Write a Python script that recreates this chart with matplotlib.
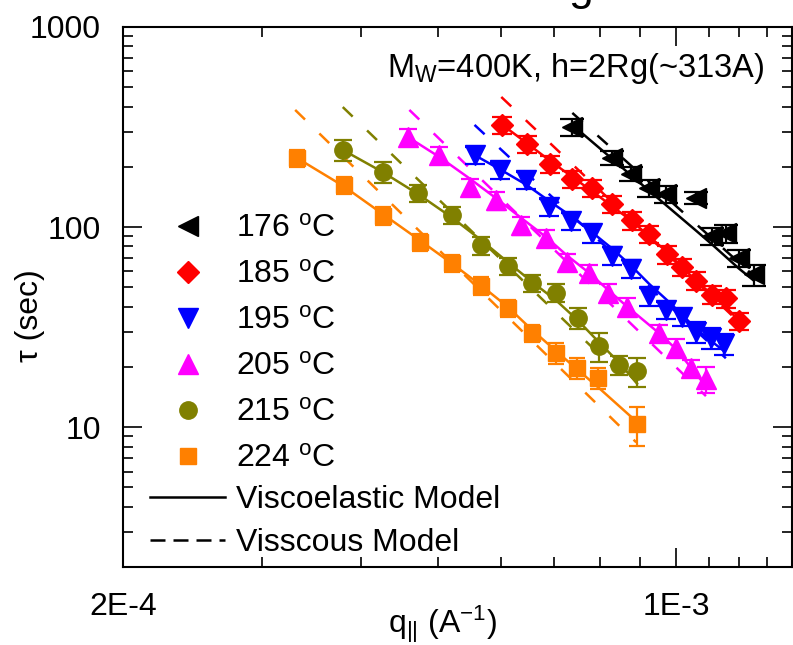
import numpy as np
import matplotlib
matplotlib.use("Agg")
import matplotlib.pyplot as plt
from matplotlib.lines import Line2D
from matplotlib.ticker import FixedLocator, FixedFormatter, NullFormatter

plt.rcParams['font.family'] = ['Liberation Sans', 'DejaVu Sans']
plt.rcParams['mathtext.fontset'] = 'custom'
plt.rcParams['mathtext.rm'] = 'Liberation Sans'
plt.rcParams['mathtext.it'] = 'Liberation Sans:italic'
plt.rcParams['mathtext.bf'] = 'Liberation Sans:bold'

# ---------------- data ----------------
series_labels = ['176 $^{\\rm o}$C', '185 $^{\\rm o}$C', '195 $^{\\rm o}$C',
                 '205 $^{\\rm o}$C', '215 $^{\\rm o}$C', '224 $^{\\rm o}$C']
colors = ['#000000', '#FF0000', '#0000FF', '#FF00FF', '#808000', '#FF8000']
markers = ['<', 'D', 'v', '^', 'o', 's']
msizes = [15, 11, 14, 14, 12.5, 12]
capsizes = [8.5, 7.5, 7.5, 6.5, 6.5, 6.0]

q_176 = [7.39e-4, 8.30e-4, 8.77e-4, 9.24e-4, 9.71e-4, 1.059e-3, 1.109e-3, 1.155e-3, 1.200e-3, 1.253e-3]
tau_176 = [316, 221, 184, 157, 146, 140, 90, 93, 70, 58]
err_176 = [0.10, 0.08, 0.08, 0.10, 0.10, 0.07, 0.10, 0.10, 0.10, 0.12]
ve_176 = [324, 219, 181, 152, 128.5, 96, 82, 71, 62, 54]

q_185 = [6.03e-4, 6.48e-4, 6.93e-4, 7.39e-4, 7.83e-4, 8.30e-4, 8.79e-4, 9.24e-4, 9.73e-4, 1.017e-3, 1.059e-3, 1.109e-3, 1.155e-3, 1.200e-3]
tau_185 = [324, 260, 206, 174, 157, 130, 108, 92, 73, 63, 54, 46, 44, 34]
err_185 = [0.10] * 14
ve_185 = [324, 262, 214, 178, 151, 127, 107, 90, 75, 63, 54, 46, 40, 34]

q_195 = [5.56e-4, 5.98e-4, 6.46e-4, 6.91e-4, 7.37e-4, 7.83e-4, 8.30e-4, 8.77e-4, 9.24e-4, 9.71e-4, 1.017e-3, 1.059e-3, 1.106e-3, 1.149e-3]
tau_195 = [229, 193, 172, 126, 107, 93, 72, 62, 45, 38.5, 35.5, 30, 28, 26]
err_195 = [0.10] * 11 + [0.12, 0.12, 0.12]
ve_195 = [229, 195, 163, 135, 113, 94, 78, 64, 52, 43.5, 36.5, 31, 27, 24]

q_205 = [4.58e-4, 5.02e-4, 5.48e-4, 5.91e-4, 6.37e-4, 6.85e-4, 7.28e-4, 7.76e-4, 8.20e-4, 8.67e-4, 9.51e-4, 1.000e-3, 1.044e-3, 1.090e-3]
tau_205 = [282, 229, 158, 136, 102, 88, 67, 59, 47, 40, 29.5, 25, 19.7, 17.4]
err_205 = [0.10] * 13 + [0.15]
ve_205 = [282, 224, 175, 140, 111, 89, 72, 59, 48.5, 40, 29.5, 24.5, 19.8, 16]

q_215 = [3.79e-4, 4.26e-4, 4.72e-4, 5.20e-4, 5.67e-4, 6.12e-4, 6.58e-4, 7.05e-4, 7.52e-4, 7.99e-4, 8.47e-4, 8.92e-4]
tau_215 = [243, 188, 148, 115, 81, 64, 52.5, 47, 35, 25.4, 20.4, 19]
err_215 = [0.12, 0.12, 0.10, 0.10, 0.10, 0.10, 0.10, 0.10, 0.12, 0.17, 0.11, 0.16]
ve_215 = [243, 188, 146, 112, 86, 67, 53, 43, 34, 26.5, 21, 16.5]

q_224 = [3.32e-4, 3.80e-4, 4.26e-4, 4.74e-4, 5.20e-4, 5.67e-4, 6.12e-4, 6.58e-4, 7.05e-4, 7.50e-4, 7.97e-4, 8.92e-4]
tau_224 = [221, 162, 114, 84, 66, 51, 39.4, 29.5, 23.4, 19.7, 17.6, 10.35]
err_224 = [0.10] * 8 + [0.12, 0.12, 0.12, 0.22]
ve_224 = [221, 160, 116, 86, 66, 51, 40, 30.5, 24, 19.4, 15.8, 10.6]

# viscous model (straight lines in log-log): q range and tau at ends
visc_q = [[7.39e-4, 1.253e-3], [6.01e-4, 1.20e-3], [5.56e-4, 1.155e-3],
          [4.60e-4, 1.09e-3], [3.79e-4, 8.85e-4], [3.30e-4, 8.90e-4]]
visc_tau = [[372, 57], [447, 33.5], [324, 22.1], [385, 14.3], [398, 15.7], [385, 8.4]]

q_all = [q_176, q_185, q_195, q_205, q_215, q_224]
tau_all = [tau_176, tau_185, tau_195, tau_205, tau_215, tau_224]
err_all = [err_176, err_185, err_195, err_205, err_215, err_224]
ve_all = [ve_176, ve_185, ve_195, ve_205, ve_215, ve_224]

annotation = 'M$_{\\rm W}$=400K, h=2Rg(~313A)'
xtick_vals = [2e-4, 1e-3]
xtick_labels = ['2E-4', '1E-3']
xminor_vals = [3e-4, 4e-4, 5e-4, 6e-4, 7e-4, 8e-4, 9e-4, 1.1e-3, 1.2e-3, 1.3e-3]
ytick_vals = [10, 100, 1000]
ytick_labels = ['10', '100', '1000']

# ---------------- figure ----------------
fig = plt.figure(figsize=(7.93, 6.45), dpi=100)
ax = fig.add_axes([123 / 793, 78 / 645, 669 / 793, 540 / 645])
ax.set_xscale('log')
ax.set_yscale('log')
ax.set_xlim(2e-4, 1.4e-3)
ax.set_ylim(2, 1000)

FS = 23
dash_plot = (0, (5.5, 8))
for i in range(6):
    c = colors[i]
    ax.plot(visc_q[i], visc_tau[i], color=c, lw=1.8, linestyle=dash_plot, zorder=2)
    ax.plot(q_all[i], ve_all[i], color=c, lw=1.8, zorder=2)
    t = np.array(tau_all[i])
    e = np.array(err_all[i]) * t
    ax.errorbar(q_all[i], t, yerr=e, fmt=markers[i], color=c, ms=msizes[i],
                mec=c, mfc=c, elinewidth=1.6, capsize=capsizes[i], capthick=1.6,
                zorder=3)

# ticks
for side in ['left', 'right', 'top', 'bottom']:
    ax.spines[side].set_linewidth(1.5)
ax.xaxis.set_major_locator(FixedLocator(xtick_vals))
ax.xaxis.set_major_formatter(FixedFormatter(xtick_labels))
ax.xaxis.set_minor_locator(FixedLocator(xminor_vals))
ax.xaxis.set_minor_formatter(NullFormatter())
ax.yaxis.set_major_locator(FixedLocator(ytick_vals))
ax.yaxis.set_major_formatter(FixedFormatter(ytick_labels))
ax.yaxis.set_minor_locator(FixedLocator([v * d for d in [1, 10, 100] for v in range(2, 10)]))
ax.yaxis.set_minor_formatter(NullFormatter())
ax.tick_params(which='both', direction='in', top=True, right=True, labelsize=FS, width=1.2)
ax.tick_params(which='major', length=14)
ax.tick_params(which='minor', length=7)
ax.tick_params(axis='y', which='major', pad=16)
ax.tick_params(axis='x', which='major', pad=18)

ax.set_xlabel('q$_{||}$ (A$^{-1}$)', fontsize=FS)
ax.xaxis.set_label_coords(0.478, -0.1215)
ax.xaxis.label.set_va('baseline')
ax.set_ylabel('τ (sec)', fontsize=FS)
ax.yaxis.set_label_coords(-0.139, 0.465)
ax.yaxis.label.set_va('center')

ax.text(0.3946, 0.9074, annotation, transform=ax.transAxes, fontsize=23.5, va='baseline', ha='left')

# legends
h1 = [Line2D([], [], ls='none', marker=markers[i], color=colors[i], ms=msizes[i]) for i in range(6)]
leg1 = ax.legend(h1, series_labels, loc='upper left', bbox_to_anchor=(0.0404, 0.654),
                 frameon=False, fontsize=FS, handlelength=2.35, handletextpad=0.33,
                 labelspacing=0.50, borderpad=0, borderaxespad=0)
ax.add_artist(leg1)
h2 = [Line2D([], [], color='black', lw=1.8),
      Line2D([], [], color='black', lw=1.8, linestyle=(0, (6, 3.2)))]
leg2 = ax.legend(h2, ['Viscoelastic Model', 'Visscous Model'], loc='upper left',
                 bbox_to_anchor=(0.0404, 0.152), frameon=False, fontsize=FS,
                 handlelength=2.35, handletextpad=0.33, labelspacing=0.41,
                 borderpad=0, borderaxespad=0)

# fragment of a title cut at the top edge
fig.text(581 / 793, 1.0, 'g', fontsize=32, ha='center', va='baseline')

fig.savefig('out.png', dpi=100)
